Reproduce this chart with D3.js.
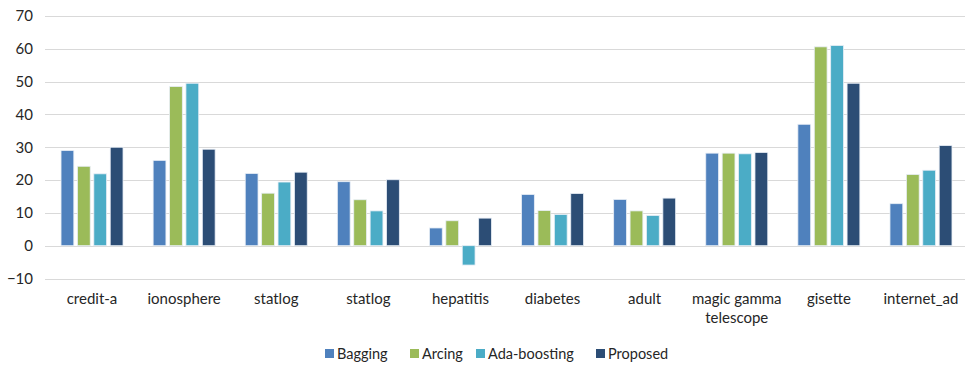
<!DOCTYPE html>
<html>
<head>
<meta charset="utf-8">
<script src="https://cdn.jsdelivr.net/npm/d3@7"></script>
<style>
  html, body { margin: 0; padding: 0; background: #fff; overflow: hidden; }
  svg text { font-family: Lato, "Open Sans", sans-serif; fill: #262626; }
</style>
</head>
<body>
<svg id="chart" width="965" height="367"></svg>
<script>
// Datasets along the x axis (labels may wrap onto two lines)
const categories = ["credit-a", "ionosphere", "statlog", "statlog", "hepatitis",
  "diabetes", "adult", "magic gamma\ntelescope", "gisette", "internet_ad"];
const seriesNames = ["Bagging", "Arcing", "Ada-boosting", "Proposed"];
const bagging     = [29, 26, 22, 19.5, 5.4, 15.6, 14.1, 28.2, 37, 12.8];
const arcing      = [24.2, 48.5, 16, 14, 7.6, 10.7, 10.6, 28.2, 60.6, 21.7];
const adaBoosting = [21.9, 49.5, 19.4, 10.6, -5.9, 9.5, 9.2, 28, 61, 23];
const proposed    = [30, 29.4, 22.4, 20.1, 8.4, 15.9, 14.5, 28.4, 49.5, 30.5];
const yTicks = [-10, 0, 10, 20, 30, 40, 50, 60, 70];
const colors = ["#4f81bd", "#9bbb59", "#4bacc6", "#2c4d75"];

const seriesValues = [bagging, arcing, adaBoosting, proposed];
const svg = d3.select("#chart");
const plotLeft = 45, plotRight = 968, plotTop = 16, plotBottom = 278.5;

const y = d3.scaleLinear().domain([-10, 70]).range([plotBottom, plotTop]);
const x0 = d3.scaleBand().domain(d3.range(categories.length)).range([plotLeft, plotRight]).paddingInner(0.327).paddingOuter(0.174);
const x1 = d3.scaleBand().domain(d3.range(seriesNames.length)).range([0, x0.bandwidth()]).paddingInner(0.22);

// Horizontal gridlines
svg.append("g").selectAll("line").data(yTicks).join("line")
  .attr("x1", plotLeft).attr("x2", 965)
  .attr("y1", d => Math.round(y(d)) + 0.5).attr("y2", d => Math.round(y(d)) + 0.5)
  .attr("stroke", "#d9d9d9").attr("stroke-width", 1);

// Y axis labels
const yAxis = d3.axisLeft(y).tickValues(yTicks).tickSize(0).tickPadding(12);
const gy = svg.append("g").attr("transform", `translate(${plotLeft},0)`).call(yAxis);
gy.select(".domain").remove();
gy.selectAll("text").attr("font-size", 15).style("font-family", "Lato, 'Open Sans', sans-serif").attr("fill", "#262626");

// Bars
const groups = svg.append("g").selectAll("g").data(categories).join("g")
  .attr("transform", (d, i) => `translate(${x0(i)},0)`);
groups.selectAll("rect")
  .data((d, i) => seriesValues.map((vals, s) => ({ s, v: vals[i] })))
  .join("rect")
  .attr("x", d => x1(d.s))
  .attr("width", x1.bandwidth())
  .attr("y", d => y(Math.max(0, d.v)))
  .attr("height", d => Math.abs(y(d.v) - y(0)))
  .attr("fill", d => colors[d.s])
  .attr("stroke", "#e8eef6").attr("stroke-width", 0.8);

// Category labels
const xl = svg.append("g");
categories.forEach((c, i) => {
  const cx = x0(i) + x0.bandwidth() / 2;
  const t = xl.append("text")
    .attr("x", cx)
    .attr("y", 304)
    .attr("text-anchor", "middle")
    .attr("font-size", 15);
  c.split("\n").forEach((line, k) => {
    t.append("tspan").attr("x", cx).attr("dy", k ? 19 : 0).text(line);
  });
});

// Legend
const legendX = [325, 410, 476, 596];
const lg = svg.append("g").selectAll("g").data(seriesNames).join("g")
  .attr("transform", (d, i) => `translate(${legendX[i]},349)`);
lg.append("rect").attr("width", 9).attr("height", 9).attr("fill", (d, i) => colors[i]);
lg.append("text").attr("x", 12).attr("y", 9.5).attr("font-size", 14.5).text(d => d);
</script>
</body>
</html>
